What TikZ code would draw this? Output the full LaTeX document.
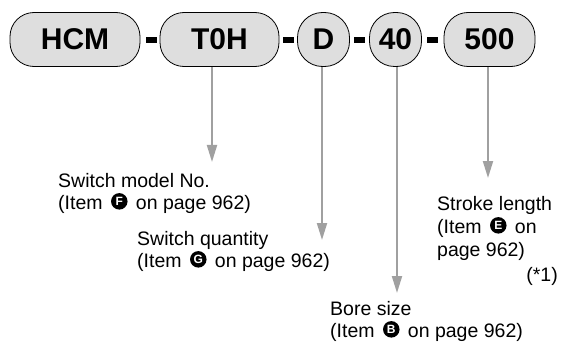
\documentclass[tikz,border=0pt]{standalone}
\usepackage{fontspec}
\setmainfont{Liberation Sans}
\usetikzlibrary{arrows.meta,shapes.geometric}
\definecolor{boxgray}{RGB}{222,222,222}
\definecolor{arrgray}{RGB}{160,160,160}
\newcommand\cltr[1]{\hspace{3pt}\tikz[baseline={([yshift=0.8pt]cc.south)}]\node[circle,fill=black,inner sep=0pt,minimum size=16.5pt,text=white,font=\fontsize{12}{12}\selectfont\bfseries](cc){#1};\hspace{3pt}}
\begin{document}
\begin{tikzpicture}[x=1pt,y=-1pt,
  pill/.style={draw=black,line width=0.8pt,fill=boxgray,rounded corners=24pt,minimum height=54pt,inner sep=0pt,font=\fontsize{30}{30}\selectfont\bfseries},
  dashbar/.style={fill=black,minimum width=11pt,minimum height=6pt,inner sep=0pt},
  arr/.style={draw=arrgray,line width=2pt,-{Triangle[length=17pt,width=10pt]}},
  lbl/.style={anchor=base west,inner sep=0pt,font=\fontsize{19.5}{22}\selectfont},
  lble/.style={anchor=base east,inner sep=0pt,font=\fontsize{19.5}{22}\selectfont}]
\useasboundingbox (0,0) rectangle (563,345);
% boxes
\node[pill,minimum width=130pt] (hcm) at (75,39.5) {HCM};
\node[pill,minimum width=119pt] (toh) at (219.5,39.5) {T0H};
\node[pill,minimum width=52pt,rounded corners=25pt] (d) at (323.5,39.5) {D};
\node[pill,minimum width=52pt,rounded corners=25pt] (forty) at (395.5,39.5) {40};
\node[pill,minimum width=91pt] (five) at (489.5,39.5) {500};
% dashes
\node[dashbar] (m1) at (151,40) {};
\node[dashbar] (m2) at (288.5,40) {};
\node[dashbar] (m3) at (359.5,40) {};
\node[dashbar] (m4) at (432.5,40) {};
% arrow ends
\coordinate (ta) at (212,162);
\coordinate (tb) at (322,240);
\coordinate (tc) at (397,293);
\coordinate (td) at (488,178);
\draw[arr] (ta |- toh.south) -- (ta);
\draw[arr] (tb |- d.south) -- (tb);
\draw[arr] (tc |- forty.south) -- (tc);
\draw[arr] (td |- five.south) -- (td);
% labels
\node[lbl] (l1a) at (58,187) {Switch model No.};
\node[lbl] (l1b) at (58,209) {(Item \cltr{F} on page 962)};
\node[lbl] (l2a) at (137,245) {Switch quantity};
\node[lbl] (l2b) at (137,267) {(Item \cltr{G} on page 962)};
\node[lbl] (l3a) at (437,210) {Stroke length};
\node[lbl] (l3b) at (437,233) {(Item \cltr{E} on};
\node[lbl] (l3c) at (437,256) {page 962)};
\node[lble] (l3d) at (558,281) {(*1)};
\node[lbl] (l4a) at (330,315) {Bore size};
\node[lbl] (l4b) at (330,337) {(Item \cltr{B} on page 962)};
\end{tikzpicture}
\end{document}
